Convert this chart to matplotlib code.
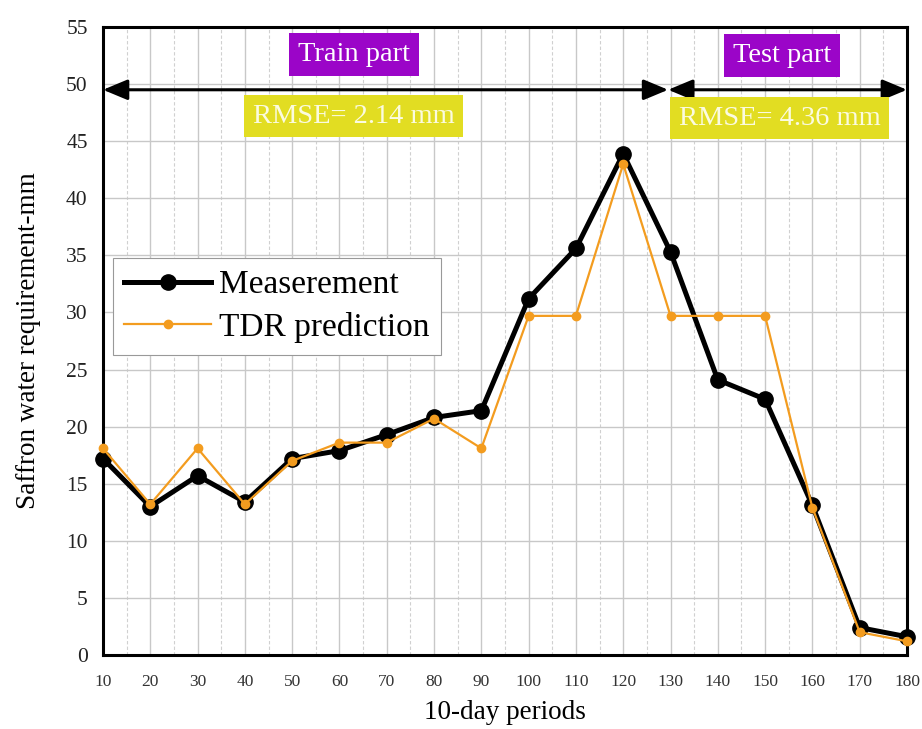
import matplotlib
matplotlib.use("Agg")
import matplotlib.pyplot as plt
from matplotlib.ticker import MultipleLocator

periods = [10, 20, 30, 40, 50, 60, 70, 80, 90, 100, 110, 120, 130, 140, 150, 160, 170, 180]
measurement = [17.2, 13.0, 15.7, 13.4, 17.2, 17.9, 19.3, 20.8, 21.4, 31.2, 35.6, 43.9,
               35.3, 24.1, 22.4, 13.1, 2.4, 1.6]
tdr_prediction = [18.1, 13.2, 18.1, 13.2, 17.0, 18.6, 18.6, 20.7, 18.1, 29.7, 29.7, 43.0,
                  29.7, 29.7, 29.7, 12.9, 2.0, 1.2]

series_labels = ["Measerement", "TDR prediction"]
part_labels = ["Train part", "Test part"]
rmse_labels = ["RMSE= 2.14 mm", "RMSE= 4.36 mm"]

plt.rcParams['font.family'] = ['Liberation Serif', 'DejaVu Serif']

fig = plt.figure(figsize=(9.22, 7.29), dpi=100)
ax = fig.add_axes([0.1117, 0.1015, 0.872, 0.8615])

ax.set_xlim(10, 180)
ax.set_ylim(0, 55)
ax.xaxis.set_major_locator(MultipleLocator(10))
ax.xaxis.set_minor_locator(MultipleLocator(5))
ax.yaxis.set_major_locator(MultipleLocator(5))
ax.grid(True, which='major', color='#c8c8c8', linewidth=1.0, linestyle='-')
ax.grid(True, which='minor', axis='x', color='#d0d0d0', linewidth=0.8, linestyle=(0, (3, 2)))
ax.set_axisbelow(True)
ax.tick_params(which='both', length=0)
ax.tick_params(axis='x', labelsize=12.5, pad=14, colors='#333333')
ax.tick_params(axis='y', labelsize=15.5, pad=11, colors='#222222')
for s in ax.spines.values():
    s.set_linewidth(2.2)
    s.set_color('black')

ax.plot(periods, measurement, color='black', linewidth=3.6, marker='o', markersize=11,
        label=series_labels[0], zorder=3, clip_on=False)
ax.plot(periods, tdr_prediction, color='#f39c1f', linewidth=1.6, marker='o', markersize=6,
        label=series_labels[1], zorder=4, clip_on=False)

ax.set_xlabel("10-day periods", fontsize=19.5, labelpad=7)
ax.set_ylabel("Saffron water requirement-mm", fontsize=19.5, labelpad=18)

# arrows
arr = dict(arrowstyle='<|-|>,head_length=0.6,head_width=0.25', color='black', lw=2.2,
           shrinkA=0, shrinkB=0, mutation_scale=25)
ax.annotate('', xy=(10, 49.5), xytext=(129.5, 49.5), arrowprops=arr, annotation_clip=False)
ax.annotate('', xy=(129.5, 49.5), xytext=(180, 49.5), arrowprops=arr, annotation_clip=False)

box_purple = dict(boxstyle='square,pad=0.32', fc='#9b05c8', ec='none')
box_yellow = dict(boxstyle='square,pad=0.3', fc='#e2dd22', ec='none')
ax.text(63, 52.6, part_labels[0], fontsize=20.5, color='white', ha='center', va='center',
        bbox=box_purple, zorder=5)
ax.text(153.6, 52.5, part_labels[1], fontsize=20.5, color='white', ha='center', va='center',
        bbox=box_purple, zorder=5)
ax.text(63, 47.2, rmse_labels[0], fontsize=20.5, color='#fbfbe0', ha='center', va='center',
        bbox=box_yellow, zorder=5)
ax.text(153.1, 47.0, rmse_labels[1], fontsize=20.5, color='#fbfbe0', ha='center', va='center',
        bbox=box_yellow, zorder=5)

leg = ax.legend(loc='upper left', bbox_to_anchor=(0.012, 0.632), fontsize=24, frameon=True,
                fancybox=False, edgecolor='#999999', framealpha=1, borderpad=0.35,
                handlelength=2.6, handletextpad=0.25, labelspacing=0.35, borderaxespad=0)
leg.get_frame().set_linewidth(0.8)

fig.savefig("out.png", dpi=100)
